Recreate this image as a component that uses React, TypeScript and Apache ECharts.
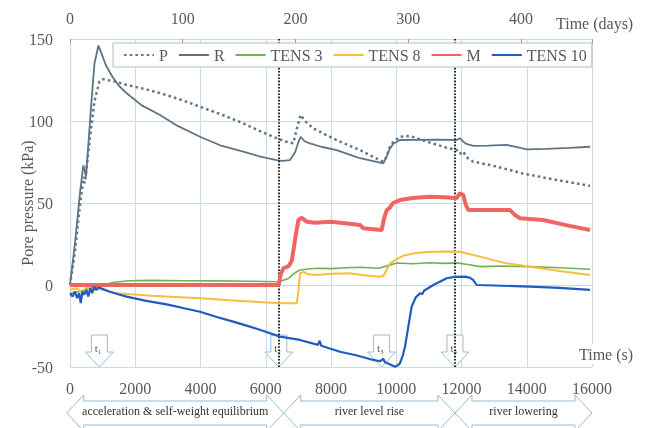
import React, { useEffect, useRef } from "react";
import * as echarts from "echarts";

const FONT = "'Liberation Serif', 'Times New Roman', serif";
const TXT = "#595959";
const GRID = "#c9d9e6";
const ARROW = "#98bad8";

type Pt = [number, number];

const SERIES_NAMES = ["P", "R", "TENS 3", "TENS 8", "M", "TENS 10"];

const P_DATA: Pt[] = [
  [0, 0], [150, 20], [300, 48], [420, 66], [450, 62], [480, 66], [600, 88], [750, 112], [900, 124],
  [1000, 125.5], [1400, 124], [1737, 122], [2300, 119.5], [2760, 117], [3400, 113], [3985, 108.7],
  [4700, 103.5], [5312, 98.6], [5800, 94], [6335, 89.5], [6600, 87.5], [6845, 86.4], [6950, 95],
  [7070, 103.7], [7200, 100], [7458, 95.5], [7800, 92], [8174, 88.4], [8500, 85.5], [8889, 82.3],
  [9200, 79], [9604, 75.2], [9700, 78], [9800, 84], [9900, 87], [10115, 90.4], [10421, 90.9],
  [11000, 87], [11500, 84], [11852, 82.3], [11950, 80], [12050, 81.5], [12150, 78], [12362, 75.2],
  [12800, 73.5], [13487, 70.1], [13900, 67.8], [14100, 67.1], [15000, 63.8], [15939, 60.5],
];

const R_DATA: Pt[] = [
  [0, 0], [150, 25], [300, 55], [408, 73], [450, 70], [490, 66], [560, 85], [650, 110], [750, 135],
  [870, 146], [950, 142], [1100, 134], [1300, 127], [1500, 121.5], [1737, 116.9], [2200, 109.5],
  [2760, 103.7], [3300, 97], [3985, 90.4], [4600, 85.2], [5312, 81.3], [5800, 78.5], [6335, 76.2],
  [6500, 75.7], [6743, 76.2], [6900, 81], [7000, 87], [7070, 90.4], [7200, 87.5], [7356, 86.4],
  [7700, 84.3], [8174, 82.3], [8500, 80], [8889, 77.3], [9300, 75.5], [9604, 74.2], [9700, 78],
  [9800, 83], [9900, 86], [10115, 88.4], [10600, 88.5], [11200, 88.6], [11852, 88.4], [11950, 89.5],
  [12050, 87.5], [12150, 86], [12362, 84.8], [12800, 85], [13384, 85.4], [13600, 84.5], [14000, 82.7],
  [14600, 83], [15300, 83.6], [15939, 84.3],
];

const TENS3_DATA: Pt[] = [
  [0, -5], [300, -4], [600, -2], [900, -1], [1300, 1.5], [1800, 2.6], [2500, 2.8], [3500, 2.6],
  [4500, 2.5], [5500, 2.3], [6400, 2], [6700, 4], [6900, 7.5], [7050, 9.1], [7300, 9.8], [7562, 10.2],
  [8000, 10], [8500, 10.5], [8889, 10.8], [9450, 10.2], [9700, 11.5], [10013, 13.4], [10500, 13],
  [11000, 13.6], [11500, 13.2], [11852, 13.5], [12200, 12.5], [12567, 11.2], [13200, 11.5],
  [14100, 11.2], [15000, 10.5], [15939, 9.6],
];

const TENS8_DATA: Pt[] = [
  [0, -3], [200, -2], [400, -5], [500, -1], [700, -3], [900, -2.5], [1432, -5.1], [2500, -6.5],
  [3985, -8.1], [5000, -9.5], [6000, -10.6], [6540, -11.2], [6950, -11.2], [7000, -4], [7050, 7.1],
  [7150, 8], [7300, 6.5], [7562, 6.1], [8000, 6.8], [8580, 7.1], [9000, 6], [9502, 5.1], [9604, 5.5],
  [9700, 9], [9808, 13.2], [9962, 15.2], [10200, 17.8], [10600, 19.5], [11034, 20.3], [11500, 20.5],
  [11954, 20.3], [12200, 19], [12567, 17.3], [13000, 15], [13384, 13.2], [14000, 11.5], [15000, 8.6],
  [15939, 6.1],
];

const M_DATA: Pt[] = [
  [0, 0], [6400, 0], [6450, 6], [6540, 10.2], [6700, 11.5], [6800, 15], [6900, 28], [7000, 39.6],
  [7100, 41], [7255, 38.6], [7500, 38], [8000, 38.5], [8500, 37.5], [8889, 36.6], [8990, 34.6],
  [9300, 34], [9553, 33.5], [9620, 40], [9707, 45.7], [9800, 47], [9900, 50], [10115, 51.8],
  [10500, 53], [11034, 53.8], [11500, 53.5], [11852, 52.9], [11950, 56], [12056, 54.9], [12130, 49],
  [12210, 45.7], [12800, 45.7], [13487, 45.7], [13650, 42.5], [13793, 40.7], [14508, 39.6],
  [15200, 36.5], [15939, 33.5],
];

const TENS10_DATA: Pt[] = [
  [0, -5], [80, -7], [150, -4], [220, -8], [280, -5], [330, -11], [380, -4], [430, -6], [500, -3],
  [560, -7], [620, -2], [680, -5], [740, -1], [800, -3], [870, -1.5], [950, -2], [1200, -4],
  [1500, -5.8], [1737, -7.1], [2300, -9.5], [3000, -12], [3500, -14.2], [3985, -16.3], [4500, -19.5],
  [5000, -22.3], [5517, -25.4], [6000, -28.5], [6437, -31.5], [7050, -33.5], [7600, -36.5],
  [7650, -34], [7700, -37], [8276, -40.7], [8800, -43], [9296, -45.7], [9500, -46.5], [9600, -45],
  [9650, -47], [9962, -49.8], [10050, -49], [10115, -47.7], [10200, -43], [10268, -37.6],
  [10370, -25.4], [10472, -13.2], [10600, -7.5], [10728, -5.1], [10800, -5.5], [10850, -3.5],
  [11136, 0], [11546, 4.1], [11800, 5], [12107, 5.1], [12250, 4.5], [12362, 3], [12465, 0],
  [13000, -0.3], [14100, -1], [15000, -1.8], [15939, -3],
];

// event markers (s)
const EVENT_TIMES = [900, 6400, 9550, 11800];
const EVENT_LABELS = ["1", "2", "3", "4"];
const DOTTED_TIMES = [6400, 11800];

// test phases (s)
const PHASE_BOUNDS = [-100, 6550, 11800, 16000];
const PHASE_LABELS = ["acceleration & self-weight equilibrium", "river level rise", "river lowering"];

const X_TICKS = { min: 0, max: 16000, interval: 2000 };
const DAYS_TICKS = { min: 0, max: 463, interval: 100 };
const Y_TICKS = { min: -50, max: 150, interval: 50 };

export default function App() {
  const ref = useRef<HTMLDivElement>(null);

  useEffect(() => {
    const chart = echarts.init(ref.current!, null, { renderer: "svg" });
    const datas = [P_DATA, R_DATA, TENS3_DATA, TENS8_DATA, M_DATA, TENS10_DATA];
    const styles: any[] = [
      { color: "#5f7384", width: 2.5, type: [2.5, 3.2] },
      { color: "#5f7384", width: 1.8, type: "solid" },
      { color: "#74b053", width: 1.6, type: "solid" },
      { color: "#f9bd3c", width: 2, type: "solid" },
      { color: "#ef6661", width: 4, type: "solid" },
      { color: "#1f5bc0", width: 2.2, type: "solid" },
    ];

    const series: any[] = SERIES_NAMES.map((name, i) => ({
      name,
      type: "line",
      xAxisIndex: 0,
      yAxisIndex: 0,
      data: datas[i],
      symbol: "none",
      showSymbol: false,
      silent: true,
      color: styles[i].color,
      lineStyle: styles[i],
      z: 2 + i,
    }));
    series[0].markLine = {
      symbol: ["none", "none"],
      silent: true,
      label: { show: false },
      lineStyle: { color: "#222", type: [1.6, 1.6], width: 2 },
      data: DOTTED_TIMES.map((t) => ({ xAxis: t })),
    };

    chart.setOption({
      animation: false,
      textStyle: { fontFamily: FONT },
      grid: { left: 70, top: 39, right: 59, bottom: 61, containLabel: false, outerBoundsMode: "none" },
      legend: {
        left: 113,
        top: 43,
        itemWidth: 30,
        itemHeight: 14,
        itemGap: 10,
        padding: [4, 5, 4, 10],
        backgroundColor: "#fff",
        borderColor: "#a8c0d4",
        borderWidth: 1,
        borderRadius: 0,
        itemStyle: { color: "rgba(0,0,0,0)", borderColor: "rgba(0,0,0,0)", borderWidth: 0 },
        textStyle: { fontFamily: FONT, fontSize: 16, color: TXT },
        data: SERIES_NAMES,
        z: 6,
      },
      xAxis: [
        {
          type: "value",
          position: "bottom",
          ...X_TICKS,
          axisLine: { show: true, lineStyle: { color: GRID } },
          axisTick: { show: false },
          splitLine: { show: true, lineStyle: { color: GRID, width: 1 } },
          axisLabel: {
            fontFamily: FONT,
            fontSize: 16,
            color: TXT,
            margin: 13,
            formatter: (v: number) => String(v),
          },
        },
        {
          type: "value",
          position: "top",
          ...DAYS_TICKS,
          axisLine: { show: false },
          axisTick: { show: true, inside: true, length: 5, lineStyle: { color: "#9a9a9a" } },
          splitLine: { show: false },
          axisLabel: {
            fontFamily: FONT,
            fontSize: 16,
            color: TXT,
            margin: 13,
            formatter: (v: number) => (v % 100 === 0 ? String(v) : ""),
          },
        },
      ],
      yAxis: {
        type: "value",
        ...Y_TICKS,
        name: "Pore pressure (kPa)",
        nameLocation: "middle",
        nameGap: 35,
        nameMoveOverlap: false,
        nameTextStyle: { fontFamily: FONT, fontSize: 16, color: TXT },
        axisLine: { show: true, lineStyle: { color: GRID } },
        axisTick: { show: false },
        splitLine: { show: true, lineStyle: { color: GRID, width: 1 } },
        axisLabel: { fontFamily: FONT, fontSize: 16, color: TXT, margin: 17, formatter: (v: number) => String(v) },
      },
      series,
    });

    const px = (t: number, v: number) =>
      chart.convertToPixel({ xAxisIndex: 0, yAxisIndex: 0 }, [t, v]) as number[];

    const graphics: any[] = [];

    // event down-arrows
    EVENT_TIMES.forEach((t, i) => {
      const [X, tipY] = px(t, Y_TICKS.min);
      const top = tipY - 32;
      const base = tipY - 15;
      graphics.push({
        type: "polygon",
        z: 1,
        silent: true,
        shape: {
          points: [
            [X - 8, top], [X + 8, top], [X + 8, base], [X + 14, base], [X, tipY],
            [X - 14, base], [X - 8, base],
          ],
        },
        style: { fill: "#fff", stroke: ARROW, lineWidth: 1 },
      });
      graphics.push({
        type: "text",
        z: 1,
        silent: true,
        x: X - 1.5,
        y: tipY - 19,
        style: { text: "t", fontFamily: FONT, fontSize: 11, fill: "#555", align: "right", verticalAlign: "middle" },
      });
      graphics.push({
        type: "text",
        z: 1,
        silent: true,
        x: X - 1.5,
        y: tipY - 15.5,
        style: { text: EVENT_LABELS[i], fontFamily: FONT, fontSize: 7, fill: "#555", align: "left", verticalAlign: "middle" },
      });
    });

    // phase arrows
    const cy = 413, sh = 12, hh = 18, hl = 17;
    for (let i = 0; i < PHASE_LABELS.length; i++) {
      const xa = px(PHASE_BOUNDS[i], 0)[0];
      const xb = px(PHASE_BOUNDS[i + 1], 0)[0];
      graphics.push({
        type: "polygon",
        silent: true,
        shape: {
          points: [
            [xa, cy], [xa + hl, cy - hh], [xa + hl, cy - sh], [xb - hl, cy - sh], [xb - hl, cy - hh],
            [xb, cy], [xb - hl, cy + hh], [xb - hl, cy + sh], [xa + hl, cy + sh], [xa + hl, cy + hh],
          ],
        },
        style: { fill: "#fff", stroke: ARROW, lineWidth: 1 },
      });
      graphics.push({
        type: "text",
        silent: true,
        x: (xa + xb) / 2,
        y: 411,
        style: {
          text: PHASE_LABELS[i],
          fontFamily: FONT,
          fontSize: 12,
          fill: "#333",
          align: "center",
          verticalAlign: "middle",
        },
      });
    }

    graphics.push({
      type: "text",
      silent: true,
      z: 10,
      x: 578,
      y: 354,
      style: {
        text: "Time (s)",
        fontFamily: FONT,
        fontSize: 16,
        fill: TXT,
        align: "left",
        verticalAlign: "middle",
        backgroundColor: "#fff",
        padding: [2, 2, 2, 1],
      },
    });
    graphics.push({
      type: "text",
      silent: true,
      x: 556,
      y: 23,
      style: { text: "Time (days)", fontFamily: FONT, fontSize: 16, fill: TXT, align: "left", verticalAlign: "middle" },
    });

    chart.setOption({ graphic: graphics });

    return () => chart.dispose();
  }, []);

  return <div ref={ref} style={{ position: "fixed", left: 0, top: 0, width: 651, height: 428 }} />;
}
